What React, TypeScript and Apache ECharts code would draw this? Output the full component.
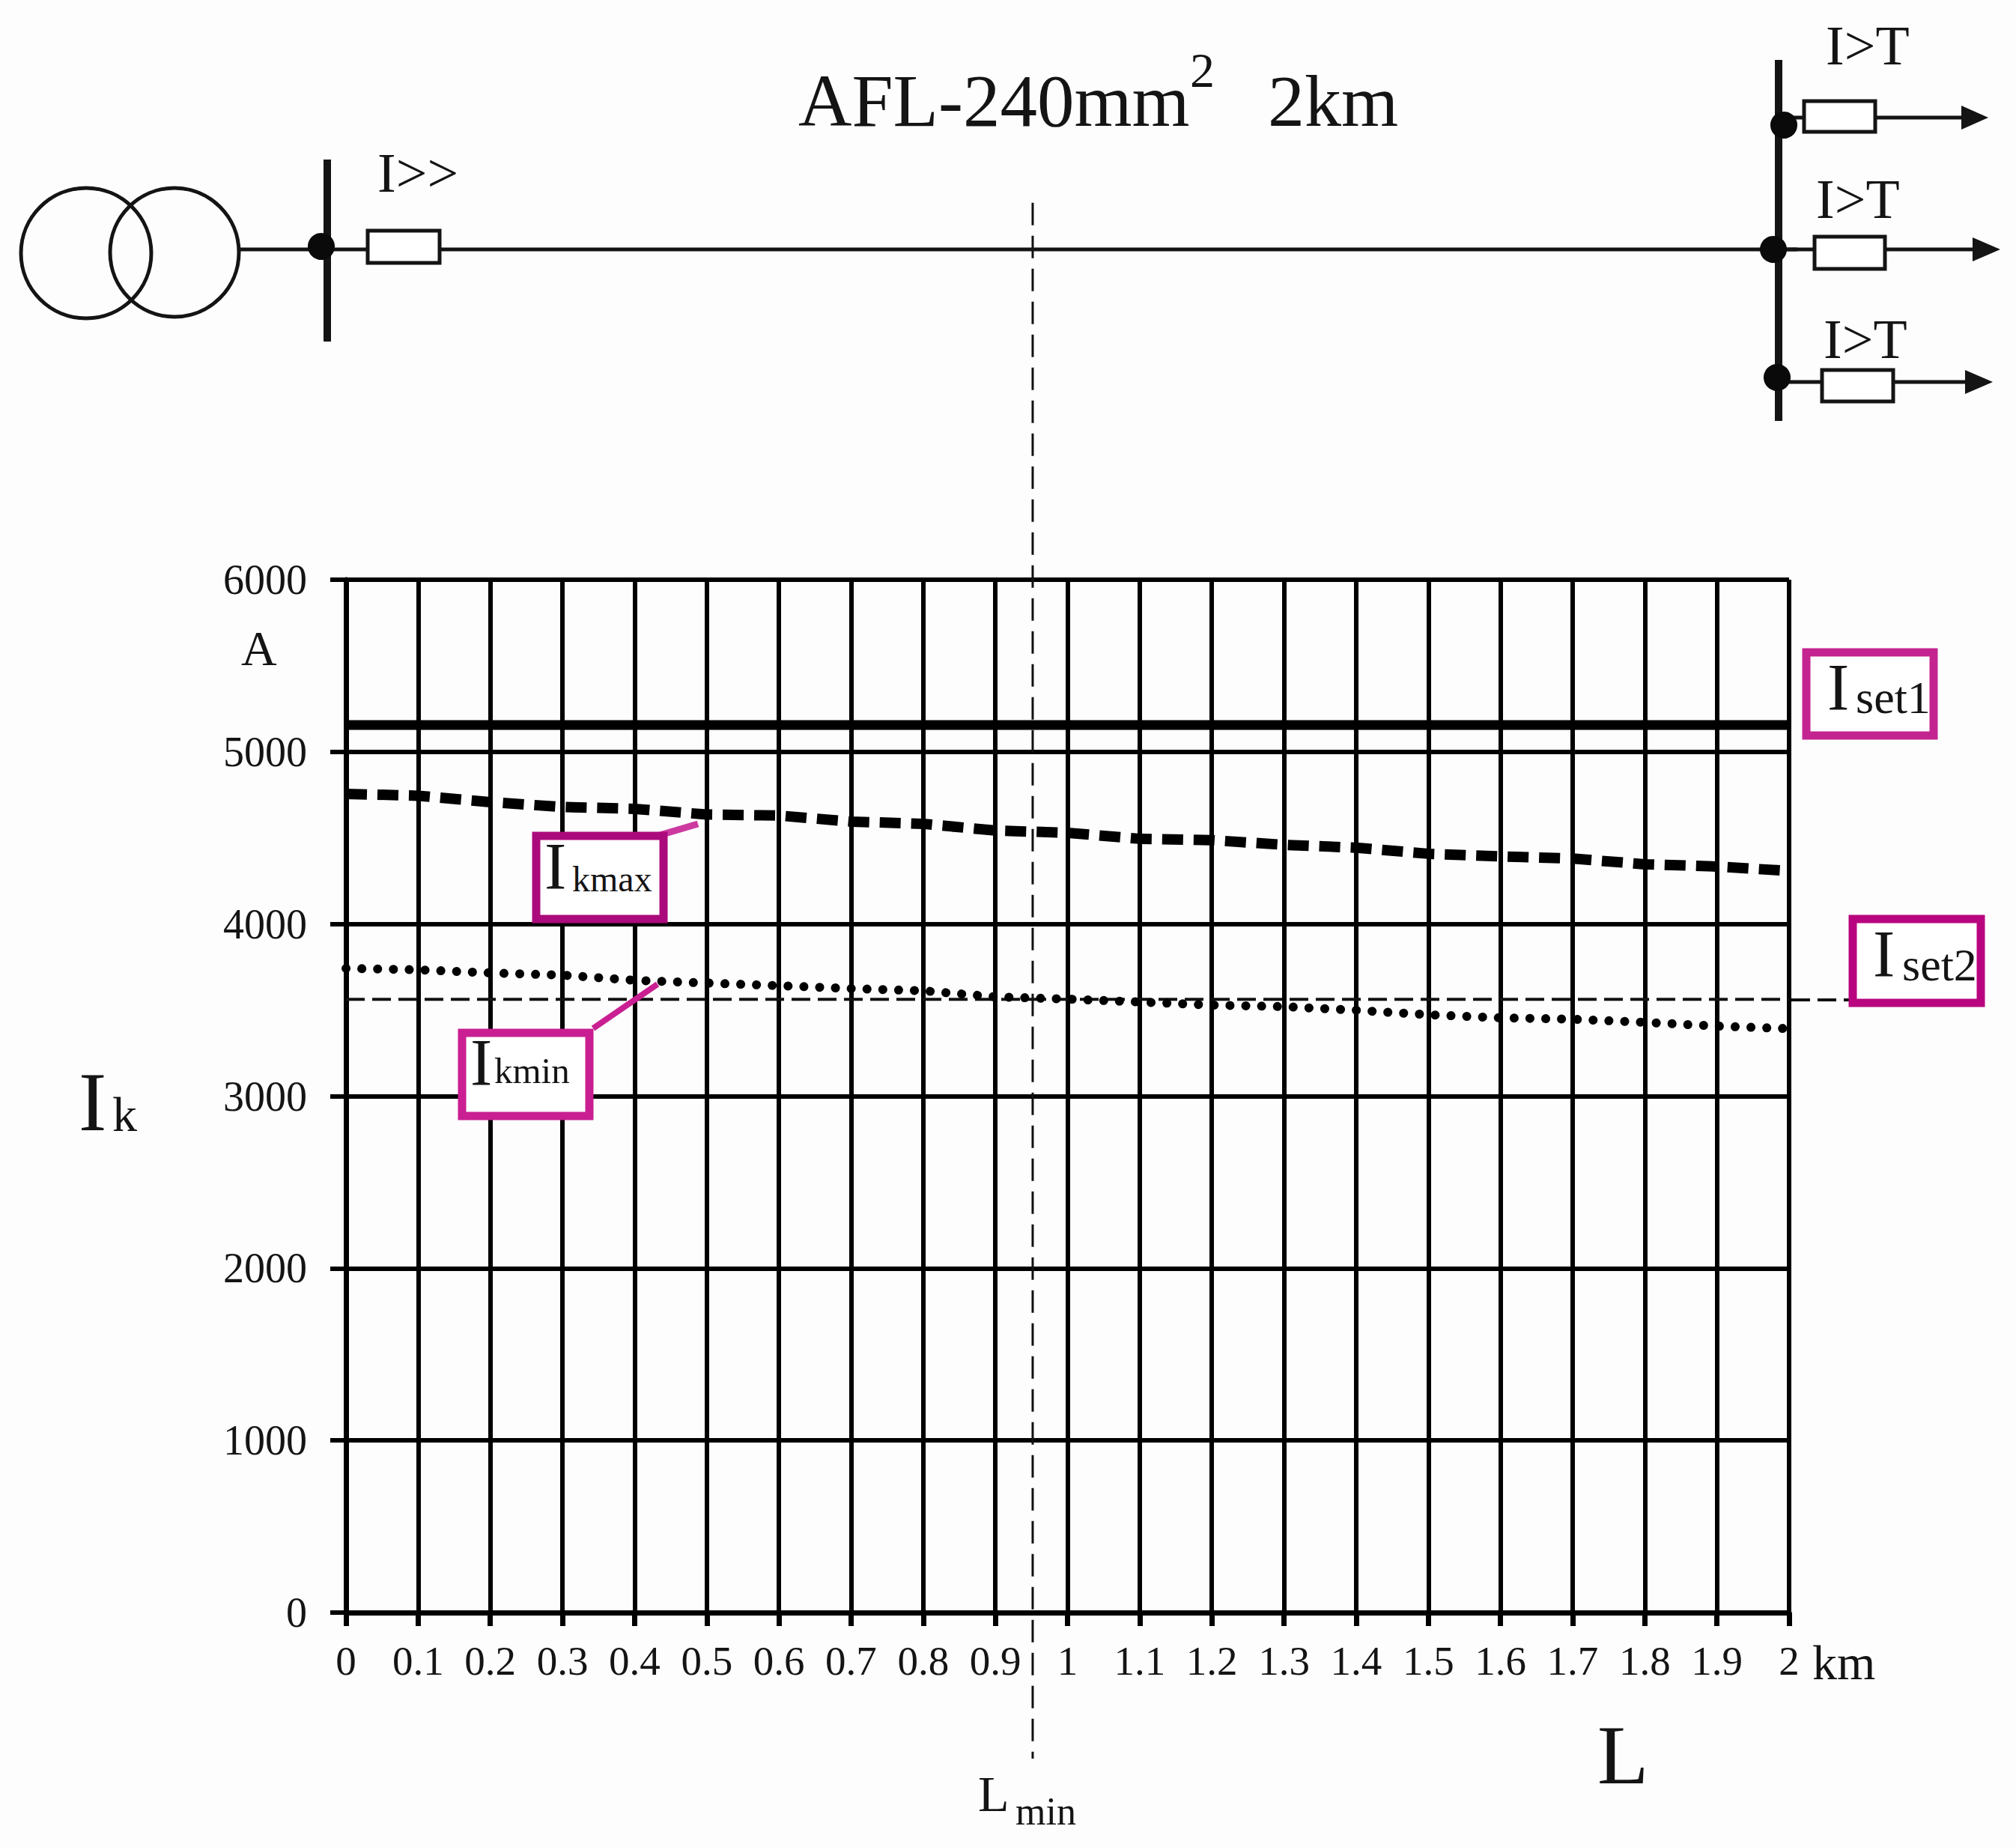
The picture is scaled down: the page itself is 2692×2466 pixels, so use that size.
import React, { useEffect, useRef } from "react";
import * as echarts from "echarts";

const xTickLabels = ["0","0.1","0.2","0.3","0.4","0.5","0.6","0.7","0.8","0.9","1","1.1","1.2","1.3","1.4","1.5","1.6","1.7","1.8","1.9","2"];
const lengthKm = [0,0.1,0.2,0.3,0.4,0.5,0.6,0.7,0.8,0.9,1,1.1,1.2,1.3,1.4,1.5,1.6,1.7,1.8,1.9,2];
const ikMax = [4756,4745,4708,4680,4669,4636,4630,4595,4582,4543,4530,4495,4487,4460,4443,4408,4393,4380,4347,4334,4308];
const ikMin = [3742,3734,3716,3703,3673,3657,3642,3625,3612,3577,3564,3547,3529,3520,3499,3473,3455,3447,3429,3407,3392];
const iSet1 = 5156;
const iSet2 = 3562;
const lMin = 0.9517;
const lMinSpan = [8190, -848];

const SERIF = '"Liberation Serif", serif';
const INK = "#141414";

function txt(x: number, baseline: number, text: string, size: number) {
  return {
    type: "text",
    x,
    y: baseline - size * 0.37,
    style: { text, fill: INK, fontFamily: SERIF, fontSize: size, align: "left", verticalAlign: "middle" },
  };
}
function ln(x1: number, y1: number, x2: number, y2: number, lineWidth: number, stroke = INK, lineDash?: number[]) {
  return { type: "line", shape: { x1, y1, x2, y2 }, style: { stroke, lineWidth, fill: "none", lineDash } };
}
function box(x: number, y: number, width: number, height: number, lineWidth: number, stroke = INK) {
  return { type: "rect", shape: { x, y, width, height }, style: { fill: "#ffffff", stroke, lineWidth } };
}
function dot(cx: number, cy: number, r: number) {
  return { type: "circle", shape: { cx, cy, r }, style: { fill: "#0a0a0a" } };
}
function arrow(xBase: number, xTip: number, y: number) {
  return { type: "polygon", shape: { points: [[xBase, y - 16], [xTip, y], [xBase, y + 16]] }, style: { fill: INK } };
}
function ring(cx: number, cy: number, r: number) {
  return { type: "ellipse", shape: { cx, cy, rx: r, ry: r }, style: { fill: "none", stroke: INK, lineWidth: 5 } };
}

const schematic = [
  ring(115, 338, 87),
  ring(233, 337, 86),
  ln(319, 333, 2400, 333, 5),
  ln(437, 213, 437, 456, 10),
  dot(429, 329, 18),
  box(491, 308, 96, 43, 5),
  txt(504, 258, "I>>", 74),

  ln(2375, 80, 2375, 562, 10),
  ln(2382, 157, 2620, 157, 5),
  dot(2382, 167, 18),
  box(2409, 135, 95, 41, 5),
  arrow(2619, 2655, 157),
  txt(2438, 88, "I>T", 74),

  ln(2368, 333, 2636, 333, 5),
  dot(2368, 333, 18),
  box(2423, 316, 94, 43, 5),
  arrow(2634, 2671, 333),
  txt(2425, 293, "I>T", 74),

  ln(2373, 510, 2626, 510, 5),
  dot(2373, 504, 18),
  box(2433, 494, 95, 42, 5),
  arrow(2624, 2661, 510),
  txt(2435, 480, "I>T", 74),

  txt(1066, 171, "AFL-240mm", 99),
  txt(1589, 118, "2", 66),
  txt(1693, 171, "2km", 98),

  txt(322, 890, "A", 66),
  txt(105, 1512, "I", 112),
  txt(150, 1512, "k", 66),
  txt(2420, 2244, "km", 66),
  txt(2133, 2384, "L", 112),
  txt(1306, 2420, "L", 68),
  txt(1356, 2438, "min", 52),

  // the Iset2 dashes carry on past the plot area up to its label box
  ln(2392, 1335, 2470, 1335, 4, "#111", [25, 10]),

  ln(881, 1115, 932, 1100, 9, "#cc3aa0"),
  box(716, 1116, 170, 111, 11, "#ab0a7c"),
  txt(727, 1189, "I", 88),
  txt(764, 1191, "kmax", 48),

  ln(792, 1373, 878, 1314, 8, "#c91f92"),
  box(617, 1379, 170, 111, 11, "#c91f92"),
  txt(628, 1451, "I", 88),
  txt(660, 1448, "kmin", 49),

  box(2412, 871, 170, 111, 11, "#c4248f"),
  txt(2440, 950, "I", 88),
  txt(2478, 954, "set1", 62),

  box(2474, 1227, 171, 112, 11, "#b8047f"),
  txt(2501, 1306, "I", 88),
  txt(2540, 1311, "set2", 62),
].map((e: any) => ({ ...e, z: 20, silent: true }));

export default function App() {
  const ref = useRef<HTMLDivElement>(null);
  useEffect(() => {
    document.body.style.margin = "0";
    const chart = echarts.init(ref.current!, undefined, { renderer: "svg" });
    chart.setOption({
      animation: false,
      backgroundColor: "#fdfdfd",
      grid: { left: 462, top: 774, width: 1927, height: 1379, containLabel: false },
      xAxis: {
        type: "value",
        min: 0,
        max: 2,
        interval: 0.1,
        axisLine: { show: true, onZero: false, lineStyle: { color: "#000", width: 7 } },
        axisTick: { show: true, length: 18, lineStyle: { color: "#000", width: 7 } },
        splitLine: { show: true, lineStyle: { color: "#000", width: 6 } },
        axisLabel: {
          margin: 37,
          color: INK,
          fontFamily: SERIF,
          fontSize: 55,
          formatter: (v: number) => xTickLabels[Math.round(v * 10)],
        },
      },
      yAxis: {
        type: "value",
        min: 0,
        max: 6000,
        interval: 1000,
        axisLine: { show: true, onZero: false, lineStyle: { color: "#000", width: 7 } },
        axisTick: { show: true, length: 21, lineStyle: { color: "#000", width: 6 } },
        splitLine: { show: true, lineStyle: { color: "#000", width: 6 } },
        axisLabel: {
          margin: 52,
          color: INK,
          fontFamily: SERIF,
          fontSize: 56,
          padding: [0, 0, 3, 0],
          formatter: (v: number) => String(v),
        },
      },
      series: [
        {
          name: "Iset1",
          type: "line",
          symbol: "none",
          clip: false,
          z: 5,
          lineStyle: { color: "#000", width: 13 },
          data: [[0, iSet1], [2, iSet1]],
        },
        {
          name: "Ikmax",
          type: "line",
          symbol: "none",
          z: 5,
          lineStyle: { color: "#000", width: 14, type: [28, 14] },
          data: lengthKm.map((x, i) => [x, ikMax[i]]),
        },
        {
          name: "Ikmin",
          type: "line",
          symbol: "none",
          clip: false,
          z: 5,
          lineStyle: { color: "#000", width: 12, type: [0.1, 21], cap: "round" },
          data: lengthKm.map((x, i) => [x, ikMin[i]]),
        },
        {
          name: "Iset2",
          type: "line",
          symbol: "none",
          clip: false,
          z: 4,
          lineStyle: { color: "#111", width: 4, type: [25, 10] },
          data: [[0, iSet2], [2, iSet2]],
        },
        {
          name: "Lmin",
          type: "line",
          symbol: "none",
          clip: false,
          z: 6,
          lineStyle: { color: "#111", width: 3, type: [30, 14] },
          data: [[lMin, lMinSpan[0]], [lMin, lMinSpan[1]]],
        },
      ],
      graphic: { elements: schematic },
    });
    return () => chart.dispose();
  }, []);
  return <div ref={ref} style={{ width: 2692, height: 2466 }} />;
}
